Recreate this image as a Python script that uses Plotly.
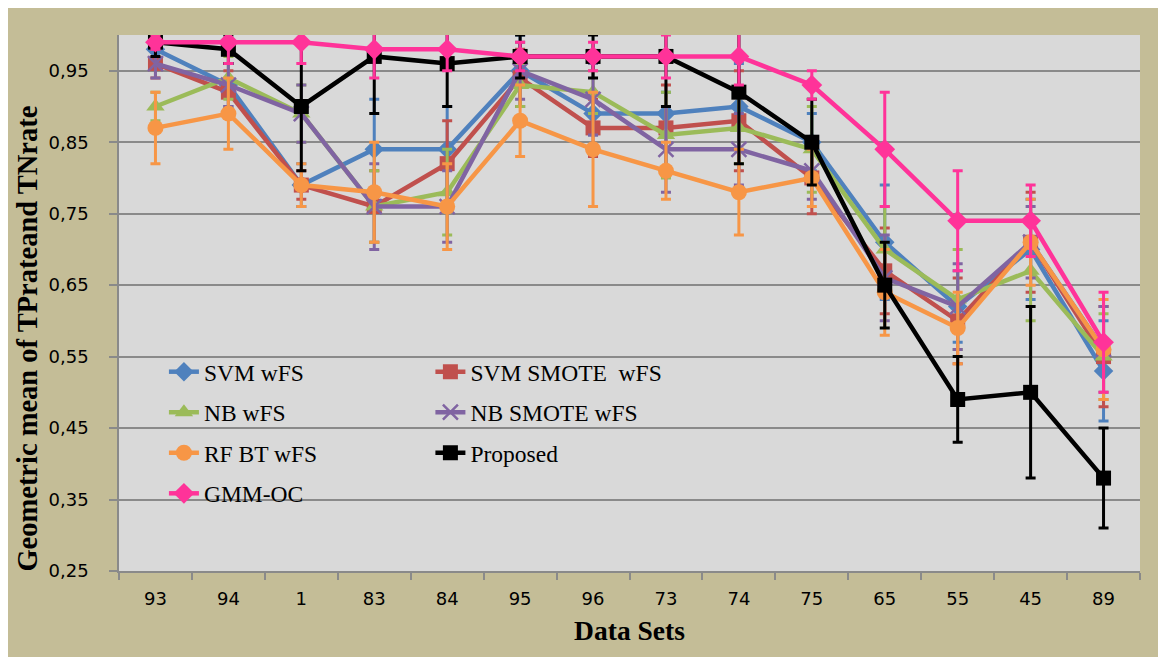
import plotly.graph_objects as go

categories = ["93", "94", "1", "83", "84", "95", "96", "73", "74", "75", "65", "55", "45", "89"]

svm_wfs = [0.98, 0.93, 0.79, 0.84, 0.84, 0.95, 0.89, 0.89, 0.90, 0.85, 0.71, 0.62, 0.70, 0.53]
svm_wfs_err = [0.02, 0.03, 0.03, 0.07, 0.06, 0.05, 0.03, 0.03, 0.06, 0.04, 0.08, 0.05, 0.07, 0.07]

svm_smote_wfs = [0.96, 0.92, 0.79, 0.76, 0.82, 0.94, 0.87, 0.87, 0.88, 0.80, 0.67, 0.60, 0.71, 0.55]
svm_smote_wfs_err = [0.02, 0.03, 0.02, 0.05, 0.06, 0.04, 0.04, 0.06, 0.07, 0.05, 0.06, 0.06, 0.07, 0.07]

nb_wfs = [0.90, 0.94, 0.89, 0.76, 0.78, 0.93, 0.92, 0.86, 0.87, 0.84, 0.70, 0.63, 0.67, 0.55]
nb_wfs_err = [0.02, 0.03, 0.04, 0.05, 0.06, 0.03, 0.03, 0.06, 0.05, 0.06, 0.06, 0.07, 0.07, 0.06]

nb_smote_wfs = [0.96, 0.93, 0.89, 0.76, 0.76, 0.95, 0.91, 0.84, 0.84, 0.81, 0.66, 0.62, 0.71, 0.56]
nb_smote_wfs_err = [0.02, 0.03, 0.04, 0.06, 0.05, 0.04, 0.05, 0.06, 0.05, 0.04, 0.06, 0.06, 0.05, 0.06]

rf_bt_wfs = [0.87, 0.89, 0.79, 0.78, 0.76, 0.88, 0.84, 0.81, 0.78, 0.80, 0.64, 0.59, 0.71, 0.56]
rf_bt_wfs_err = [0.05, 0.05, 0.03, 0.07, 0.06, 0.05, 0.08, 0.04, 0.06, 0.04, 0.06, 0.05, 0.06, 0.07]

proposed = [0.99, 0.98, 0.90, 0.97, 0.96, 0.97, 0.97, 0.97, 0.92, 0.85, 0.65, 0.49, 0.50, 0.38]
proposed_err = [0.02, 0.02, 0.09, 0.08, 0.06, 0.03, 0.03, 0.07, 0.10, 0.06, 0.06, 0.06, 0.12, 0.07]

gmm_oc = [0.99, 0.99, 0.99, 0.98, 0.98, 0.97, 0.97, 0.97, 0.97, 0.93, 0.84, 0.74, 0.74, 0.57]
gmm_oc_err = [0.01, 0.03, 0.03, 0.04, 0.03, 0.02, 0.02, 0.03, 0.04, 0.02, 0.08, 0.07, 0.05, 0.07]

series = [
    # name, values, errors, color, symbol, size, legend
    ("SVM wFS", svm_wfs, svm_wfs_err, "#4F81BD", "diamond", 15, "legend"),
    ("SVM SMOTE  wFS", svm_smote_wfs, svm_smote_wfs_err, "#C0504D", "square", 15, "legend2"),
    ("NB wFS", nb_wfs, nb_wfs_err, "#9BBB59", "triangle-up", 16, "legend"),
    ("NB SMOTE wFS", nb_smote_wfs, nb_smote_wfs_err, "#8064A2", "x-thin", 15, "legend2"),
    ("RF BT wFS", rf_bt_wfs, rf_bt_wfs_err, "#F79646", "circle", 16, "legend"),
    ("Proposed", proposed, proposed_err, "#000000", "square", 15, "legend2"),
    ("GMM-OC", gmm_oc, gmm_oc_err, "#FF3399", "diamond", 16, "legend"),
]

legend_rank = {"SVM wFS": 1, "NB wFS": 2, "RF BT wFS": 3, "GMM-OC": 4,
               "SVM SMOTE  wFS": 1, "NB SMOTE wFS": 2, "Proposed": 3}

fig = go.Figure()
for name, vals, errs, color, symbol, size, leg in series:
    marker = dict(symbol=symbol, size=size, color=color)
    if symbol == "x-thin":
        marker["line"] = dict(color=color, width=2.5)
    fig.add_trace(go.Scatter(
        x=categories, y=vals, name=name, mode="lines+markers",
        line=dict(color=color, width=4.5),
        marker=marker,
        error_y=dict(type="data", array=errs, visible=True, color=color,
                     thickness=3, width=5),
        legend=leg, legendgroup=name, legendrank=legend_rank[name],
    ))

serif = "Liberation Serif, Times New Roman, serif"
sans = "DejaVu Sans, Verdana, sans-serif"
grid = "#8A8A8A"

fig.update_layout(
    width=1158, height=649,
    margin=dict(l=111, r=26, t=27, b=86),
    paper_bgcolor="#C4BD97",
    plot_bgcolor="#D9D9D9",
    separators=", ",
    showlegend=True,
    legend=dict(x=0.044, y=0.4125, xanchor="left", yanchor="top",
                bgcolor="rgba(0,0,0,0)", borderwidth=0,
                font=dict(family=serif, size=23.5, color="#000000"),
                tracegroupgap=7, traceorder="grouped"),
    legend2=dict(x=0.305, y=0.4125, xanchor="left", yanchor="top",
                 bgcolor="rgba(0,0,0,0)", borderwidth=0,
                 font=dict(family=serif, size=23.5, color="#000000"),
                 tracegroupgap=7, traceorder="grouped"),
    xaxis=dict(
        type="category", range=[-0.5, len(categories) - 0.5],
        showline=True, linecolor=grid, linewidth=1.5,
        ticks="outside", tickson="boundaries", ticklen=7, tickcolor=grid, tickwidth=1.5,
        showgrid=False, zeroline=False,
        tickfont=dict(family=sans, size=18, color="#000000"),
        ticklabelstandoff=11,
        title=dict(text="Data Sets", standoff=12,
                   font=dict(family=serif, size=27.5, color="#000000", weight="bold")),
        automargin=False,
    ),
    yaxis=dict(
        range=[0.25, 1.0], tick0=0.25, dtick=0.1, tickformat=".2f",
        showline=True, linecolor=grid, linewidth=1.5,
        ticks="outside", ticklen=8, tickcolor=grid, tickwidth=1.5,
        showgrid=True, gridcolor=grid, gridwidth=1.5, zeroline=False,
        tickfont=dict(family=sans, size=18, color="#000000"),
        ticklabelstandoff=17,
        title=dict(text="Geometric mean of TPrateand TNrate" + "&nbsp;" * 10, standoff=3,
                   font=dict(family=serif, size=28.5, color="#000000", weight="bold")),
        automargin=False,
    ),
)

fig.write_html("out.html")
